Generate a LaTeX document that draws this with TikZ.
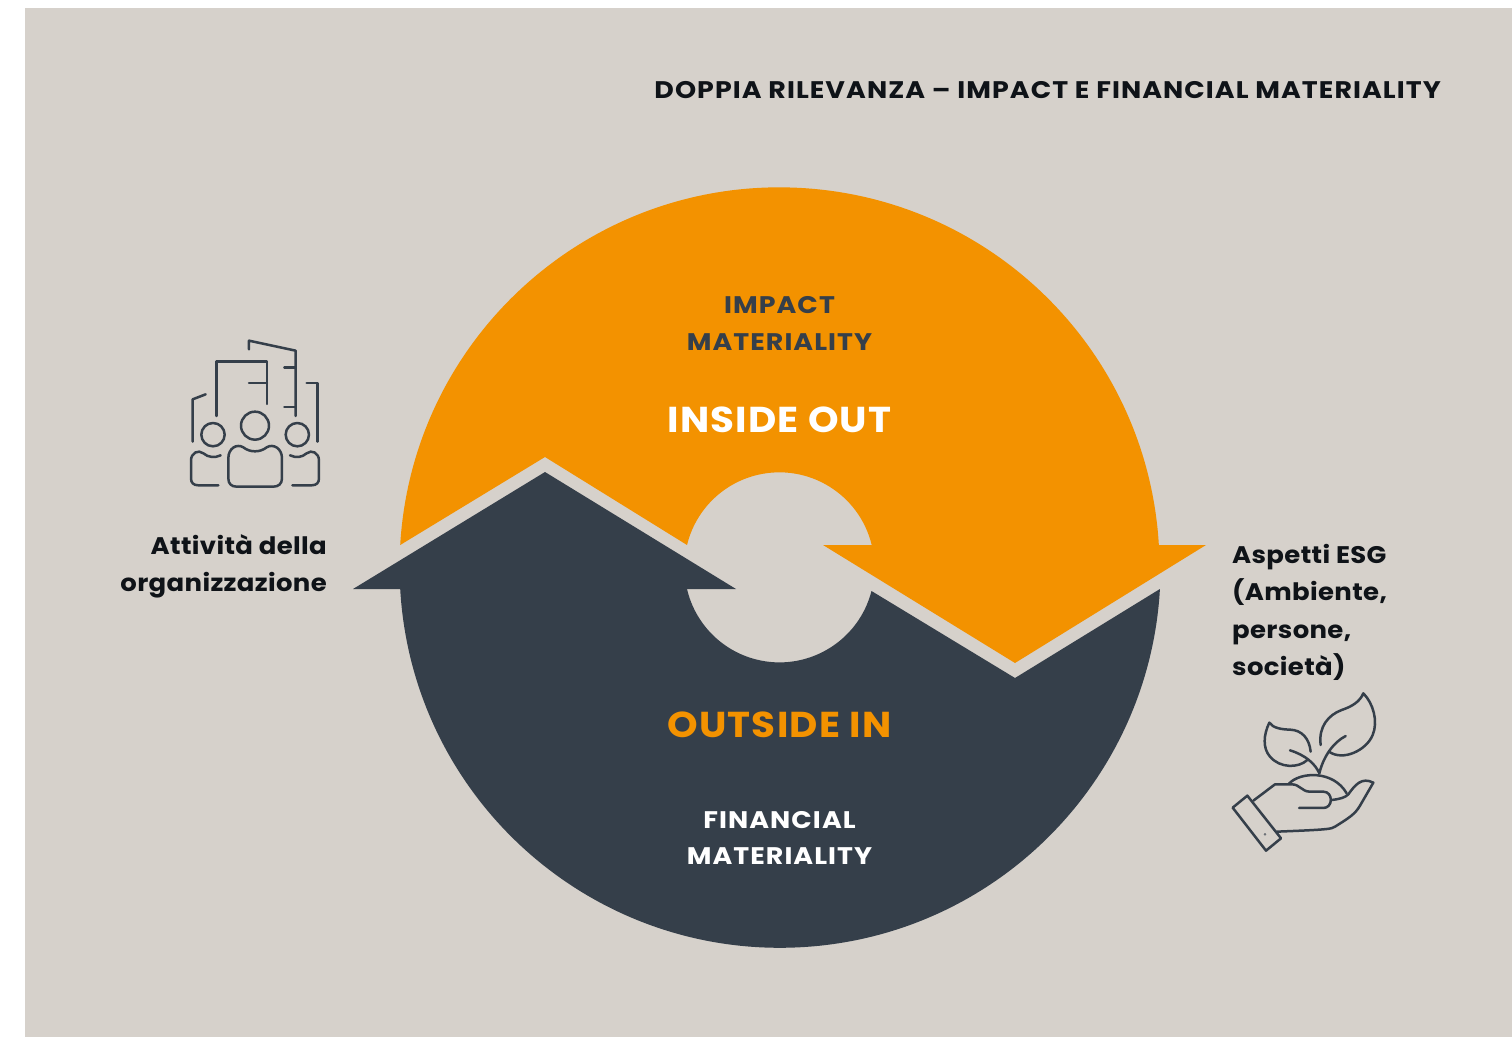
\documentclass[tikz,border=0pt]{standalone}
\usepackage{fontspec}
\setmainfont{Poppins}
\newfontfamily\capsfont[FakeStretch=1.12,LetterSpace=4.4]{Poppins}
\newfontfamily\bigfont[FakeStretch=1.08,LetterSpace=3.3]{Poppins}
\newfontfamily\bodyfont[FakeStretch=1.08,LetterSpace=1.5]{Poppins}
\definecolor{bgc}{HTML}{D6D1CB}
\definecolor{orangec}{HTML}{F39200}
\definecolor{darkc}{HTML}{353F4A}
\definecolor{inkc}{HTML}{0F1318}
\tikzset{
  icon/.style={draw=darkc,line width=2.5pt,line cap=round,line join=round},
  titletext/.style={font=\capsfont\fontsize{24}{37}\selectfont\bfseries,text=inkc,inner sep=0pt},
  labeltext/.style={font=\bodyfont\fontsize{24}{37.3}\selectfont\bfseries,text=inkc,inner sep=0pt},
  smalltext/.style={font=\capsfont\fontsize{24}{36.5}\selectfont\bfseries,inner sep=0pt,align=center},
  bigtext/.style={font=\bigfont\fontsize{36}{40}\selectfont\bfseries,inner sep=0pt,align=center},
}
\begin{document}
\begin{tikzpicture}[x=1pt,y=-1pt]
\useasboundingbox (0,0) rectangle (1512,1038);
\fill[bgc] (25,8) rectangle (1512,1037);
% orange arrow
\fill[orangec] (400.2,545) arc[start angle=183.37,end angle=356.63,radius=380]
  -- (1206,545) -- (1015,663) -- (823,545) -- (871.7,545)
  arc[start angle=346.4,end angle=193.6,radius=95]
  -- (545,457) -- cycle;
% dark arrow
\fill[darkc] (400.2,589) arc[start angle=176.73,end angle=3.27,radius=380.5]
  -- (1015,678) -- (871.5,591) 
  arc[start angle=14.4,end angle=166.8,radius=95]
  -- (736,589) -- (545,472) -- (353,589) -- cycle;
% texts
\node[titletext,anchor=base east] (title) at (1441,99) {DOPPIA RILEVANZA – IMPACT E FINANCIAL MATERIALITY};
\node[smalltext,text=darkc] (impact) at (779.5,323.5) {IMPACT\\MATERIALITY};
\node[bigtext,text=white,anchor=base] (inside) at (779.5,432) {INSIDE OUT};
\node[bigtext,text=orangec,anchor=base] (outside) at (779.5,737) {OUTSIDE IN};
\node[smalltext,text=white] (financial) at (779.5,838) {FINANCIAL\\MATERIALITY};
\node[labeltext,align=right,anchor=east] (attivita) at (327,566.5) {Attività della\\organizzazione};
\node[labeltext,align=left,anchor=west] (aspetti) at (1232,612.5) {Aspetti ESG\\(Ambiente,\\persone,\\società)};
% people and buildings icon
\begin{scope}[shift={(170,330)},x=0.3333pt,y=-0.3333pt]
\draw[icon] (237,58) -- (237,32) -- (377,62) -- (377,258);
\draw[icon] (343,113) -- (377,113);
\draw[icon] (343,231) -- (377,231);
\draw[icon] (140,258) -- (140,94) -- (291,94) -- (291,222);
\draw[icon] (237,159) -- (291,159);
\draw[icon] (68,335) -- (68,208) -- (107,193);
\draw[icon] (410,159) -- (443,159) -- (443,335);
\draw[icon] (129,314) circle[radius=35];
\draw[icon] (255,287) circle[radius=42];
\draw[icon] (382,314) circle[radius=35];
\draw[icon] (175,385) .. controls (175,355) and (200,340) .. (220,352)
  .. controls (240,368) and (270,368) .. (290,352)
  .. controls (310,340) and (336,355) .. (336,385)
  -- (336,445) .. controls (336,462) and (325,470) .. (310,470)
  -- (200,470) .. controls (185,470) and (175,462) .. (175,445) -- cycle;
\draw[icon] (145,466) -- (85,466) .. controls (70,466) and (63,458) .. (63,445)
  -- (63,392) .. controls (63,368) and (85,358) .. (100,370)
  .. controls (115,383) and (135,384) .. (152,376);
\draw[icon] (367,466) -- (425,466) .. controls (440,466) and (447,458) .. (447,445)
  -- (447,392) .. controls (447,368) and (425,358) .. (410,370)
  .. controls (395,383) and (378,384) .. (360,376);
\end{scope}
% hand and plant icon
\begin{scope}[shift={(1220,685)},x=0.3333pt,y=-0.3333pt]
\draw[icon] (302,180) .. controls (295,125) and (325,90) .. (365,75)
  .. controls (395,65) and (420,50) .. (430,25)
  .. controls (460,55) and (475,110) .. (458,150)
  .. controls (440,195) and (370,230) .. (327,200);
\draw[icon] (377,153) .. controls (340,172) and (310,215) .. (298,265);
\draw[icon] (272,200) .. controls (268,160) and (245,135) .. (210,134)
  .. controls (185,133) and (160,130) .. (148,113)
  .. controls (130,150) and (128,190) .. (150,215)
  .. controls (180,250) and (235,250) .. (262,225);
\draw[icon] (210,196) .. controls (255,210) and (285,235) .. (298,265);
\draw[icon] (207,296) .. controls (240,260) and (340,255) .. (380,325);
\draw[icon] (100,347) -- (165,298) -- (215,298)
  .. controls (240,298) and (245,320) .. (270,320) -- (310,320)
  .. controls (340,320) and (340,369) .. (310,369) -- (237,369);
\draw[icon] (335,345) .. controls (360,342) and (375,338) .. (385,328)
  .. controls (405,300) and (425,275) .. (460,293)
  -- (420,362) .. controls (405,388) and (385,400) .. (345,425)
  .. controls (335,432) and (325,434) .. (170,440);
\draw[icon] (38,368) -- (82,332) -- (183,460) -- (138,497) -- cycle;
\draw[draw=darkc,line width=0.4pt] (135,448) circle[radius=3];
\end{scope}
\end{tikzpicture}
\end{document}
